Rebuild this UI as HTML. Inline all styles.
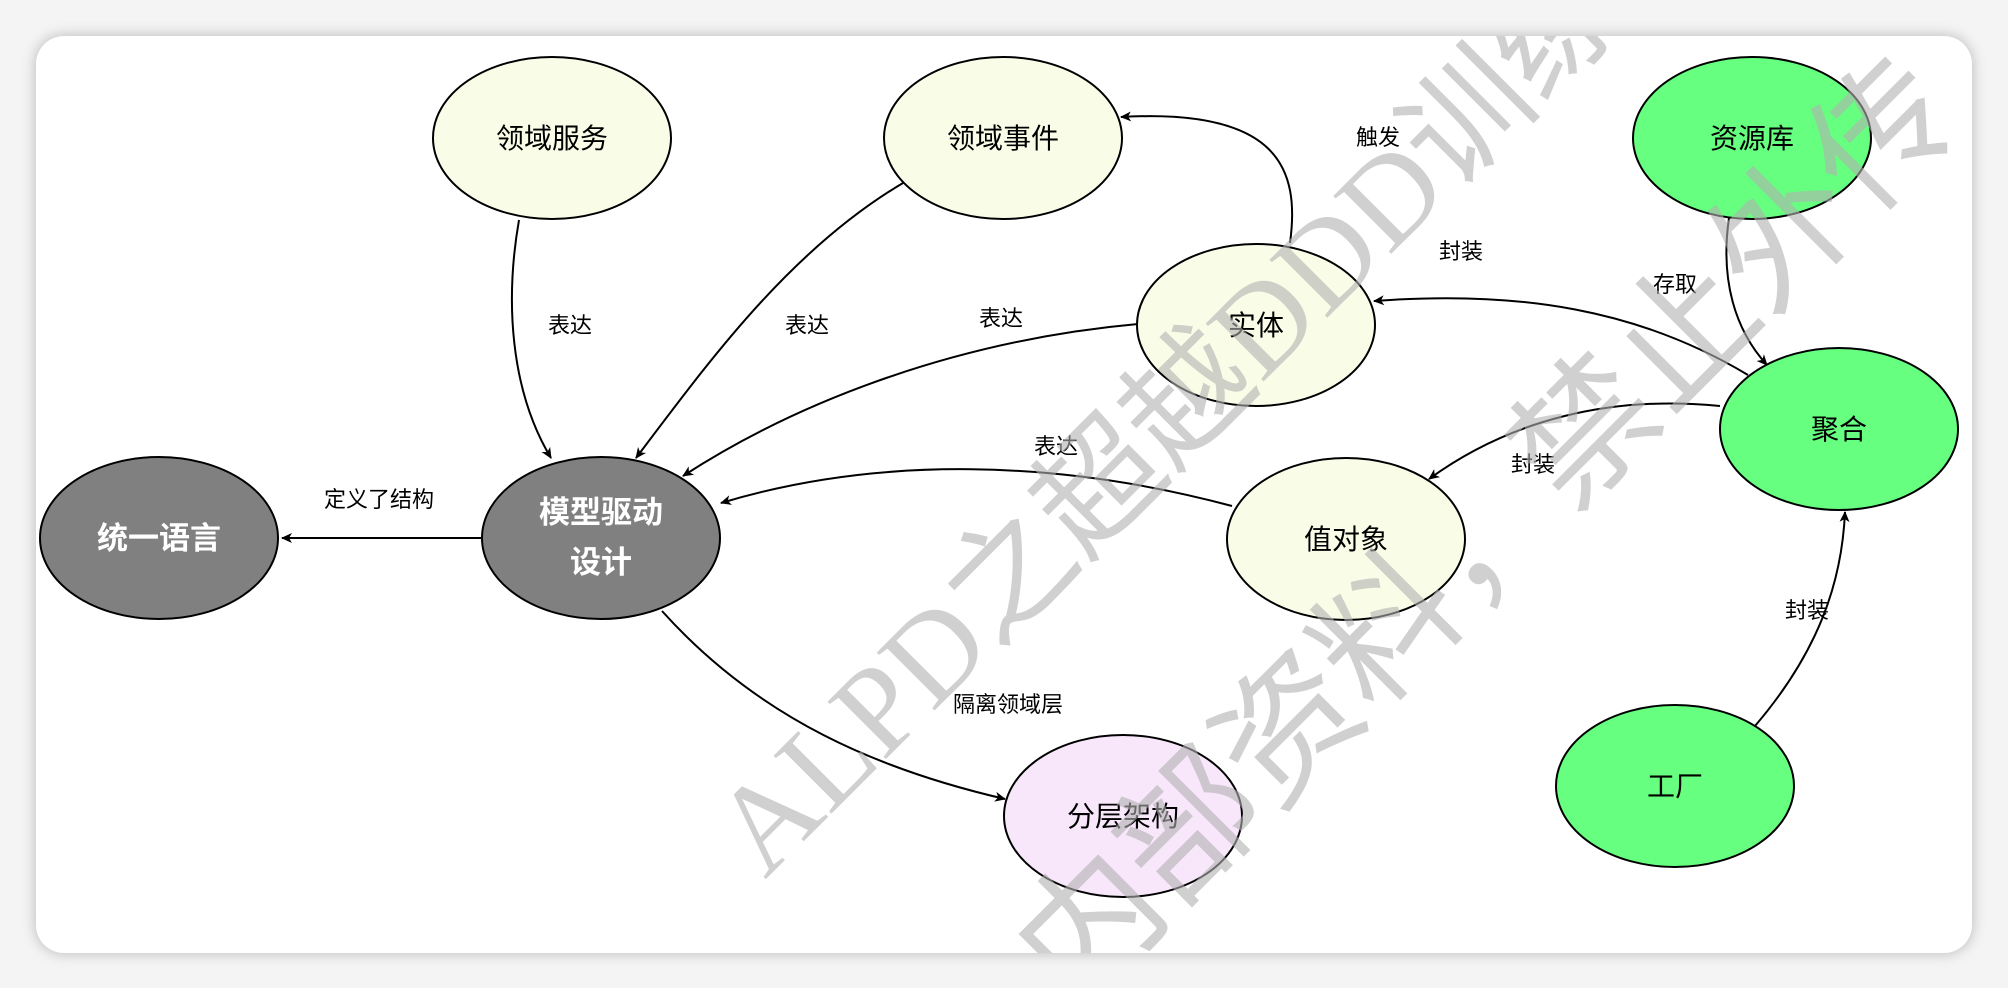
<!DOCTYPE html>
<html><head><meta charset="utf-8"><style>
html,body{margin:0;padding:0;background:#f4f4f4;}
body{width:2008px;height:988px;overflow:hidden;position:relative;}
.card{position:absolute;left:36px;top:36px;width:1936px;height:917px;background:#fff;border-radius:28px;box-shadow:0 0 14px rgba(0,0,0,0.25);}
svg{position:absolute;left:0;top:0;}
text{font-family:"Liberation Sans","Noto Sans CJK SC",sans-serif;}
text.wm{font-family:"Liberation Serif","Noto Sans CJK SC",serif;}
</style></head><body>
<div class="card"></div>
<svg width="2008" height="988" viewBox="0 0 2008 988">
<defs>
<marker id="a" markerWidth="12" markerHeight="12" refX="10" refY="6" orient="auto" markerUnits="userSpaceOnUse">
<path d="M0,1 L11,6 L0,11 L3,6 Z" fill="#000"/></marker>
<clipPath id="c"><rect x="36" y="36" width="1936" height="917" rx="28"/></clipPath>
</defs>
<g fill="none" stroke="#000" stroke-width="2">
<path d="M519,220 C505,300 510,390 551,458" marker-end="url(#a)"/>
<path d="M903,183 C790,250 710,360 636,458" marker-end="url(#a)"/>
<path d="M1138,324 C960,340 800,400 683,476" marker-end="url(#a)"/>
<path d="M1232,506 C1060,460 880,455 721,503" marker-end="url(#a)"/>
<path d="M483,538 L282,538" marker-end="url(#a)"/>
<path d="M662,611 C760,720 880,770 1005,799" marker-end="url(#a)"/>
<path d="M1290,243 C1300,170 1280,108 1121,117" marker-end="url(#a)"/>
<path d="M1748,375 C1640,310 1520,290 1374,301" marker-end="url(#a)"/>
<path d="M1720,406 C1610,395 1510,420 1429,479" marker-end="url(#a)"/>
<path d="M1729,218 C1720,280 1735,330 1767,365" marker-end="url(#a)"/>
<path d="M1755,726 C1820,650 1842,580 1845,512" marker-end="url(#a)"/>
</g>
<g stroke="#000" stroke-width="2">
<ellipse cx="552" cy="138" rx="119" ry="81" fill="#f9fde8"/>
<ellipse cx="1003" cy="138" rx="119" ry="81" fill="#f9fde8"/>
<ellipse cx="1752" cy="138" rx="119" ry="81" fill="#66ff80"/>
<ellipse cx="1256" cy="325" rx="119" ry="81" fill="#f9fde8"/>
<ellipse cx="1839" cy="429" rx="119" ry="81" fill="#66ff80"/>
<ellipse cx="159" cy="538" rx="119" ry="81" fill="#808080"/>
<ellipse cx="601" cy="538" rx="119" ry="81" fill="#808080"/>
<ellipse cx="1346" cy="539" rx="119" ry="81" fill="#f9fde8"/>
<ellipse cx="1123" cy="816" rx="119" ry="81" fill="#f8e6fb"/>
<ellipse cx="1675" cy="786" rx="119" ry="81" fill="#66ff80"/>
</g>
<g font-size="28" text-anchor="middle" fill="#000">
<text x="552" y="148">领域服务</text>
<text x="1003" y="148">领域事件</text>
<text x="1752" y="148">资源库</text>
<text x="1256" y="335">实体</text>
<text x="1839" y="439">聚合</text>
<text x="1346" y="549">值对象</text>
<text x="1123" y="826">分层架构</text>
<text x="1675" y="796">工厂</text>
</g>
<g font-size="31" font-weight="bold" text-anchor="middle" fill="#fff">
<text x="159" y="549">统一语言</text>
<text x="601" y="523">模型驱动</text>
<text x="601" y="573">设计</text>
</g>
<g font-size="22" text-anchor="middle" fill="#000">
<text x="570" y="333">表达</text>
<text x="807" y="333">表达</text>
<text x="1001" y="326">表达</text>
<text x="1056" y="454">表达</text>
<text x="379" y="507">定义了结构</text>
<text x="1008" y="712">隔离领域层</text>
<text x="1378" y="145">触发</text>
<text x="1461" y="259">封装</text>
<text x="1533" y="472">封装</text>
<text x="1675" y="292">存取</text>
<text x="1807" y="618">封装</text>
</g>
<g clip-path="url(#c)" fill="#b0b0b0" fill-opacity="0.6">
<text class="wm" font-size="125" transform="translate(765,880) rotate(-45)">ALPD之超越DDD训练营</text>
<text class="wm" font-size="140" transform="translate(1075,1010) rotate(-45)">内部资料，禁止外传</text>
</g>
</svg>
</body></html>
